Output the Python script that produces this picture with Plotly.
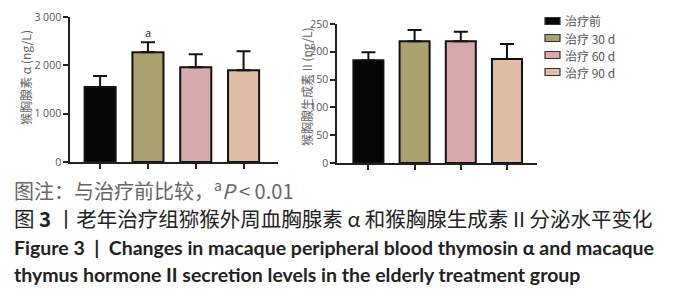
import plotly.graph_objects as go

groups = ["治疗前", "治疗 30 d", "治疗 60 d", "治疗 90 d"]
colors = ["#050505", "#aba070", "#d6aaaa", "#dfbda5"]
thymosin = [1550, 2270, 1960, 1900]
thymosin_err = [230, 210, 270, 390]
hormone = [185, 219, 219, 187]
hormone_err = [14, 20, 17, 27]
left_ticks = [0, 1000, 2000, 3000]
left_ticklabels = ["0", "1 000", "2 000", "3 000"]
right_ticks = [0, 50, 100, 150, 200, 250]

W, H = 676, 300
fig = go.Figure()

for i, g in enumerate(groups):
    fig.add_trace(go.Bar(
        x=[i], y=[thymosin[i]], name=g, showlegend=False,
        marker=dict(color=colors[i], line=dict(color="#111", width=2)),
        width=0.65,
        error_y=dict(type="data", array=[thymosin_err[i]], symmetric=False,
                     arrayminus=[0], color="#111", thickness=2, width=7),
        xaxis="x", yaxis="y"))
    fig.add_trace(go.Bar(
        x=[i], y=[hormone[i]], name=g, showlegend=False,
        marker=dict(color=colors[i], line=dict(color="#111", width=2)),
        width=0.65,
        error_y=dict(type="data", array=[hormone_err[i]], symmetric=False,
                     arrayminus=[0], color="#111", thickness=2, width=7),
        xaxis="x2", yaxis="y2"))

axcommon = dict(showgrid=False, zeroline=False, showline=True, linecolor="#222",
                linewidth=1.5, ticks="outside", ticklen=5, tickcolor="#222", tickwidth=1.5,
                automargin=False)
tickfont = dict(size=10.5, color="#555", family="Open Sans")
fig.update_layout(
    template="none",
    width=W, height=H, margin=dict(l=0, r=0, t=0, b=0, autoexpand=False),
    paper_bgcolor="white", plot_bgcolor="white", showlegend=False,
    xaxis=dict(domain=[70 / W, 278 / W], range=[-0.63, 3.72], tickvals=[0, 1, 2, 3],
               showticklabels=False, anchor="y", **axcommon),
    yaxis=dict(domain=[(H - 162) / H, (H - 17) / H], range=[0, 3000], tickvals=left_ticks,
               ticktext=left_ticklabels, tickfont=tickfont, anchor="x", **axcommon),
    xaxis2=dict(domain=[337 / W, 537 / W], range=[-0.68, 3.65], tickvals=[0, 1, 2, 3],
                showticklabels=False, anchor="y2", **axcommon),
    yaxis2=dict(domain=[(H - 163) / H, (H - 24) / H], range=[0, 250], tickvals=right_ticks,
                tickfont=tickfont, anchor="x2", **axcommon),
)

cjk = "Noto Sans CJK SC"
ann = []
shapes = []
# legend (manual, to match compact row spacing)
for i, g in enumerate(groups):
    yc = 21 + i * 17
    shapes.append(dict(type="rect", xref="paper", yref="paper",
                       x0=545 / W, x1=560 / W, y0=(H - yc - 3.5) / H, y1=(H - yc + 3.5) / H,
                       fillcolor=colors[i], line=dict(color="#333", width=1.2)))
    ann.append(dict(x=563 / W, y=(H - yc) / H, xref="paper", yref="paper",
                    xanchor="left", yanchor="middle", text=g, showarrow=False,
                    font=dict(size=12, color="#555", family=cjk)))

ann.append(dict(x=1, y=thymosin[1] + thymosin_err[1], xref="x", yref="y", text="a",
                showarrow=False, yanchor="bottom", xanchor="center", yshift=0,
                font=dict(size=11, color="#222", family="Open Sans")))
ann.append(dict(x=25 / W, y=(H - 78) / H, xref="paper", yref="paper",
                xanchor="center", yanchor="middle",
                text="猴胸腺素 α (ng/L)", textangle=-90, showarrow=False,
                font=dict(size=12, color="#666", family=cjk)))
ann.append(dict(x=306 / W, y=(H - 87) / H, xref="paper", yref="paper",
                xanchor="center", yanchor="middle",
                text="猴胸腺生成素 II (ng/L)", textangle=-90, showarrow=False,
                font=dict(size=12, color="#666", family=cjk)))
caps = [
    ("图注：与治疗前比较，<sup>a</sup><i>P</i> &lt; 0.01", 190, 20, "#666", cjk),
    ("图 <b>3</b> 丨老年治疗组猕猴外周血胸腺素 α 和猴胸腺生成素 II 分泌水平变化", 218, 20.5, "#222", cjk),
    ("<b>Figure 3  |  Changes in macaque peripheral blood thymosin α and macaque</b>", 247, 19.5, "#222", "Lato"),
    ("<b>thymus hormone II secretion levels in the elderly treatment group</b>", 274, 19.5, "#222", "Lato"),
]
for text, ypx, size, col, fam in caps:
    ann.append(dict(x=12 / W, y=(H - ypx) / H, xref="paper", yref="paper",
                    xanchor="left", yanchor="middle", text=text, showarrow=False,
                    font=dict(size=size, color=col, family=fam)))
fig.update_layout(annotations=ann, shapes=shapes)

fig.write_html("out.html", config={"displayModeBar": False},
               post_script="document.body.style.margin='0';")
